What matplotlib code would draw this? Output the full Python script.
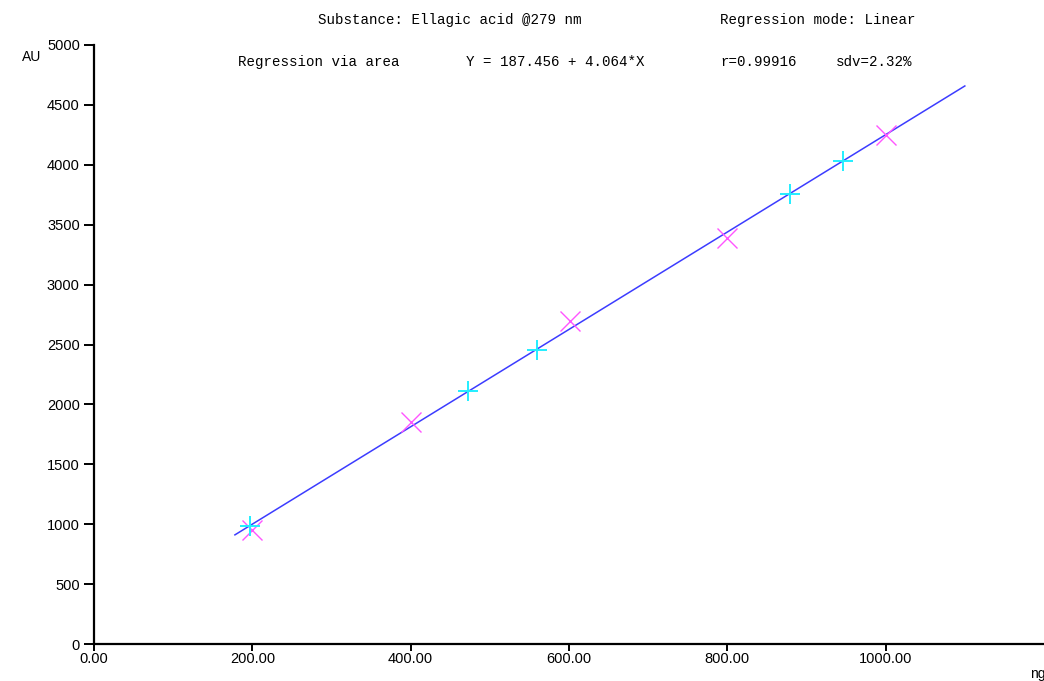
import matplotlib
matplotlib.use("Agg")
import matplotlib.pyplot as plt

# standards (magenta x) and samples (cyan +)
std_x = [200, 400, 601, 800, 1001]
std_y = [952, 1853, 2696, 3389, 4249]
smp_x = [197, 473, 559, 879, 946]
smp_y = [985, 2112, 2454, 3756, 4032]

# regression line end points
line_x = [178, 1100]
line_y = [911, 4658]

xticks = [0, 200, 400, 600, 800, 1000]
xlabels = ["0.00", "200.00", "400.00", "600.00", "800.00", "1000.00"]
yticks = [0, 500, 1000, 1500, 2000, 2500, 3000, 3500, 4000, 4500, 5000]

W, H = 1044, 681
fig = plt.figure(figsize=(W / 100, H / 100), dpi=100)
ax = fig.add_axes([94 / W, 37 / H, 1 - 94 / W, 599 / H])

ax.plot(line_x, line_y, color="#3c3cff", lw=1.1, zorder=2)
ax.plot(std_x, std_y, "x", color="#ff55ff", ms=15, mew=1.0, ls="none", zorder=3)
ax.plot(smp_x, smp_y, "+", color="#22eeff", ms=14, mew=1.4, ls="none", zorder=4)

ax.set_xlim(0, 1200)
ax.set_ylim(0, 5000)
ax.set_xticks(xticks)
ax.set_xticklabels(xlabels)
ax.set_yticks(yticks)
for s in ["top", "right"]:
    ax.spines[s].set_visible(False)
for s in ["left", "bottom"]:
    ax.spines[s].set_linewidth(1.6)
    ax.spines[s].set_color("black")
    ax.spines[s].set_zorder(5)
ax.tick_params(axis="y", direction="out", length=7.2, width=1.4, pad=3,
               labelsize=10.5, labelfontfamily="Liberation Sans")
ax.tick_params(axis="x", direction="out", length=5, width=1.4, pad=1,
               labelsize=10.5, labelfontfamily="Liberation Sans")
ax.patch.set_alpha(0)

hdr = dict(family="Liberation Mono", fontsize=10.2, va="center")
fig.text(318 / W, 1 - 20 / H, "Substance: Ellagic acid @279 nm", **hdr)
fig.text(720 / W, 1 - 20 / H, "Regression mode: Linear", **hdr)
fig.text(238 / W, 1 - 62 / H, "Regression via area", **hdr)
fig.text(466 / W, 1 - 62 / H, "Y = 187.456 + 4.064*X", **hdr)
fig.text(720 / W, 1 - 62 / H, "r=0.99916", **hdr)
fig.text(836 / W, 1 - 62 / H, "sdv=2.32%", **hdr)

fig.text(22 / W, 1 - 57 / H, "AU", family="Liberation Sans", fontsize=10, va="center")
fig.text(1030 / W, 1 - 674 / H, "ng", family="Liberation Sans", fontsize=10, va="center")

fig.savefig("out.png", dpi=100)
